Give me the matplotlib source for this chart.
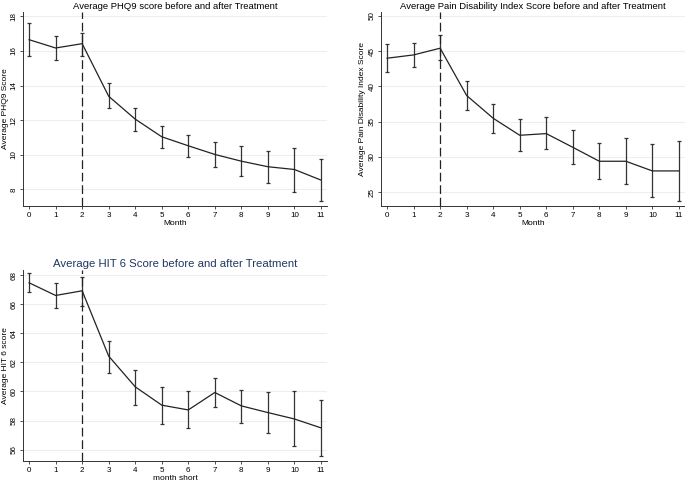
import matplotlib.pyplot as plt

plt.rcParams['font.family'] = ['Liberation Sans', 'DejaVu Sans']

months = list(range(12))

# PHQ9
phq_mean = [16.65, 16.17, 16.42, 13.38, 12.06, 11.04, 10.52, 10.02, 9.63, 9.31, 9.15, 8.54]
phq_hi = [17.62, 16.85, 17.06, 14.12, 12.73, 11.69, 11.13, 10.73, 10.48, 10.23, 10.42, 9.73]
phq_lo = [15.69, 15.46, 15.73, 12.73, 11.37, 10.38, 9.85, 9.27, 8.77, 8.35, 7.87, 7.33]
phq_ticks = [8, 10, 12, 14, 16, 18]

# Pain Disability Index
pdi_mean = [44.0, 44.47, 45.42, 38.71, 35.49, 33.08, 33.32, 31.38, 29.40, 29.40, 28.03, 28.03]
pdi_hi = [45.98, 46.22, 47.31, 40.74, 37.47, 35.35, 35.63, 33.79, 31.95, 32.66, 31.81, 32.33]
pdi_lo = [42.01, 42.72, 43.76, 36.63, 33.46, 30.81, 31.09, 28.97, 26.84, 26.23, 24.29, 23.77]
pdi_ticks = [25, 30, 35, 40, 45, 50]

# HIT 6
hit_mean = [67.47, 66.6, 66.92, 62.43, 60.32, 59.06, 58.73, 59.93, 59.01, 58.55, 58.11, 57.5]
hit_hi = [68.12, 67.44, 67.9, 63.44, 61.49, 60.32, 60.0, 60.96, 60.11, 59.93, 60.0, 59.38]
hit_lo = [66.84, 65.76, 65.9, 61.30, 59.10, 57.77, 57.5, 58.94, 57.86, 57.17, 56.23, 55.59]
hit_ticks = [56, 58, 60, 62, 64, 66, 68]

W, H = 685, 484
fig = plt.figure(figsize=(W / 100, H / 100), dpi=100)


def panel(rect, mean, lo, hi, ticks, ylim, title, ylabel, xlabel, label_x,
          title_color='black', title_size=6.8):
    l, t, r, b = rect
    ax = fig.add_axes([l / W, 1 - b / H, (r - l) / W, (b - t) / H])
    err = [[m - a for m, a in zip(mean, lo)], [c - m for m, c in zip(mean, hi)]]
    ax.errorbar(months, mean, yerr=err, color='#222222', lw=0.9, elinewidth=0.9,
                capsize=1.6, capthick=0.9, ecolor='#333333')
    ax.axvline(2, color='#222222', lw=0.9, ls=(0, (7, 3)))
    ax.set_xlim(-0.23, 11.23)
    ax.set_ylim(*ylim)
    ax.set_xticks(months)
    ax.set_yticks(ticks)
    ax.yaxis.grid(True, color='#eaf0f0', lw=0.8)
    ax.set_axisbelow(True)
    for s in ['top', 'right']:
        ax.spines[s].set_visible(False)
    for s in ['left', 'bottom']:
        ax.spines[s].set_color('#333333')
        ax.spines[s].set_linewidth(0.7)
    ax.tick_params(labelsize=5.8, length=2, width=0.6, color='#333333', pad=2)
    for lab in ax.get_yticklabels():
        lab.set_rotation(90)
        lab.set_va('center')
    ax.set_title(title, fontsize=title_size, color=title_color, pad=2)
    ax.set_ylabel(ylabel, fontsize=6)
    ax.yaxis.set_label_coords((label_x - l) / (r - l), 0.5)
    ax.set_xlabel(xlabel, fontsize=6, labelpad=1)
    return ax


panel((23, 12, 327, 206), phq_mean, phq_lo, phq_hi, phq_ticks, (7.04, 18.25),
      'Average PHQ9 score before and after Treatment', 'Average PHQ9 Score', 'Month', 9)
panel((381, 12, 685, 206), pdi_mean, pdi_lo, pdi_hi, pdi_ticks, (23.06, 50.55),
      'Average Pain Disability Index Score before and after Treatment',
      'Average Pain Disability Index Score', 'Month', 366)
panel((23, 270, 327, 461), hit_mean, hit_lo, hit_hi, hit_ticks, (55.22, 68.35),
      'Average HIT 6 Score before and after Treatment', 'Average HIT 6 score', 'month short', 9,
      title_color='#1f3864', title_size=8.2)

fig.savefig('out.png', dpi=100)
